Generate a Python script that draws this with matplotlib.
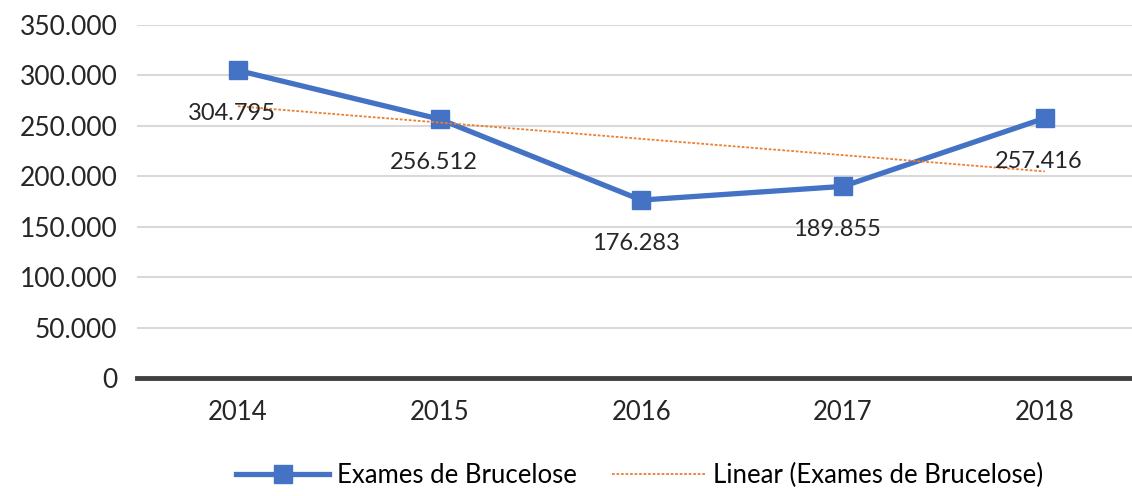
import matplotlib.pyplot as plt
import numpy as np

anos = ["2014", "2015", "2016", "2017", "2018"]
exames = [304795, 256512, 176283, 189855, 257416]
rotulos = ["304.795", "256.512", "176.283", "189.855", "257.416"]
yticks = [0, 50000, 100000, 150000, 200000, 250000, 300000, 350000]
ytick_labels = ["0", "50.000", "100.000", "150.000", "200.000", "250.000", "300.000", "350.000"]

plt.rcParams["font.family"] = ["Lato", "DejaVu Sans"]

fig = plt.figure(figsize=(11.32, 4.96), dpi=100)
ax = fig.add_axes([0.121, 0.238, 0.891, 0.712])

x = np.arange(len(anos))
ax.plot(x, exames, color="#4472C4", linewidth=3.8, marker="s", markersize=13,
        label="Exames de Brucelose", zorder=3)

# linha de tendencia
coef = np.polyfit(x, exames, 1)
ax.plot(x, np.polyval(coef, x), color="#ED7D31", linestyle=(0, (1.5, 1)), linewidth=1.3,
        label="Linear (Exames de Brucelose)", zorder=4)

for xi, yi, t in zip(x, exames, rotulos):
    ax.annotate(t, (xi, yi), xytext=(-4, -31), textcoords="offset points",
                ha="center", va="center", fontsize=17, color="#262626", zorder=5)

ax.set_xlim(-0.5, 4.5)
ax.set_ylim(0, 350000)
ax.set_xticks(x)
ax.set_xticklabels(anos, fontsize=18.5, color="#262626")
ax.set_yticks(yticks)
ax.set_yticklabels(ytick_labels, fontsize=19, color="#262626")
ax.tick_params(length=0, pad=14)
ax.tick_params(axis="x", pad=16)
ax.grid(axis="y", color="#d9d9d9", linewidth=1.5)
ax.set_axisbelow(True)
for s in ["top", "right", "left"]:
    ax.spines[s].set_visible(False)
ax.spines["bottom"].set_color("#404040")
ax.spines["bottom"].set_linewidth(3.5)

fig.legend(loc="lower center", bbox_to_anchor=(0.565, -0.03), ncol=2, frameon=False,
           fontsize=18.5, handlelength=3.6, handletextpad=0.3, columnspacing=1.4)

plt.savefig("out.png", dpi=100)
